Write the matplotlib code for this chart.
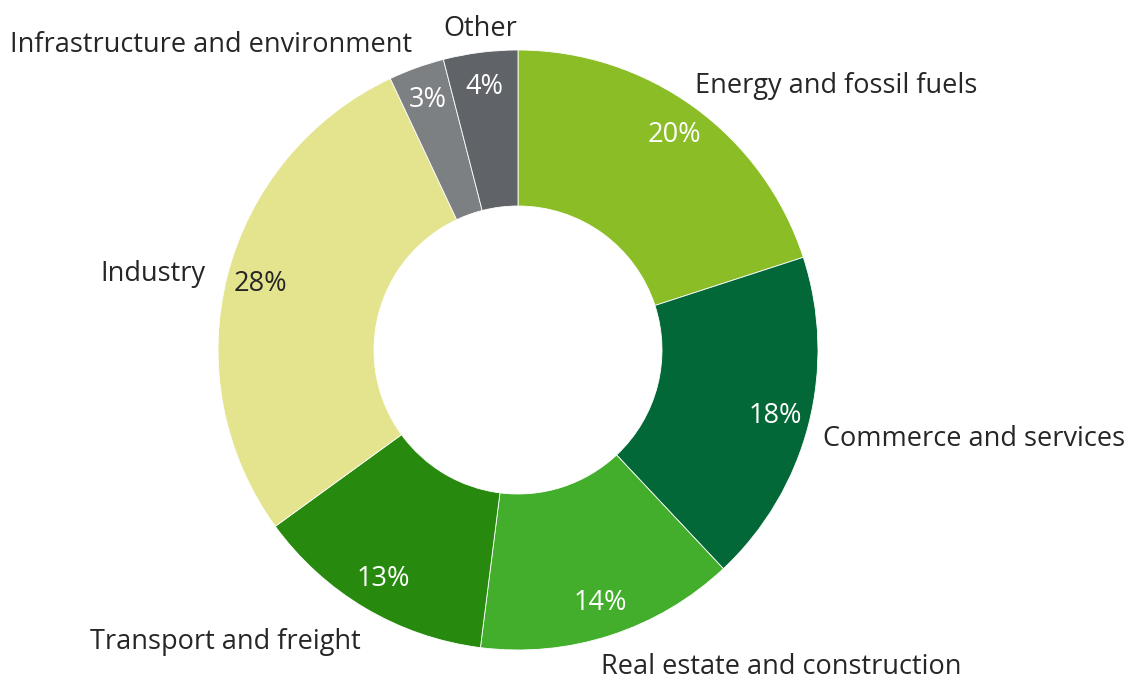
import matplotlib.pyplot as plt
import numpy as np

plt.rcParams['font.family'] = ['Open Sans', 'DejaVu Sans']

# data
sectors = ["Energy and fossil fuels", "Commerce and services", "Real estate and construction",
           "Transport and freight", "Industry", "Infrastructure and environment", "Other"]
shares = [20, 18, 14, 13, 28, 3, 4]
colors = ["#8bbd27", "#036837", "#42ae2c", "#27890d", "#e5e48e", "#7d8083", "#606368"]
pct_colors = ["white", "white", "white", "white", "#262626", "white", "white"]

# label anchors in pixels (left x, centre y) of the reference image
label_px = [(695, 82), (823, 435), (601, 664), (90, 638), (100, 270), (10, 42), (443, 25)]

W, H = 1134, 681
cx, cy, R = 518, 350, 300
fs = 19.5

fig = plt.figure(figsize=(W / 100, H / 100), dpi=100)
ax = fig.add_axes([0, 0, 1, 1])

wedges, texts, autotexts = ax.pie(shares, colors=colors, startangle=90, counterclock=False,
                                  radius=1, autopct='%d%%', pctdistance=0.885,
                                  wedgeprops=dict(width=0.52, edgecolor='white', linewidth=0.6),
                                  textprops=dict(fontsize=fs))
ax.set_xlim(-cx / R, (W - cx) / R)
ax.set_ylim(-(H - cy) / R, cy / R)
ax.set_aspect('equal')
ax.axis('off')

for t, c in zip(autotexts, pct_colors):
    t.set_color(c)

for name, (px, py) in zip(sectors, label_px):
    ax.text((px - cx) / R, (cy - py) / R, name, ha='left', va='center_baseline',
            fontsize=fs, color='#262626')

fig.savefig('out.png', dpi=100)
